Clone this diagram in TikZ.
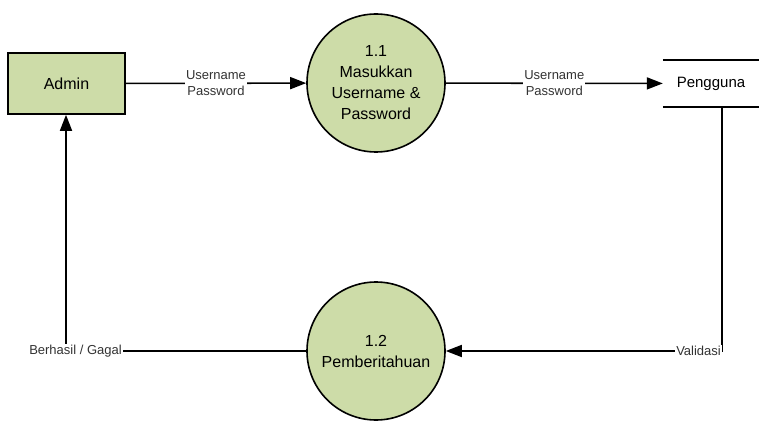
\documentclass[tikz,border=0pt]{standalone}
\usepackage{fontspec}
\setmainfont{Liberation Sans}
\usetikzlibrary{arrows.meta}
\definecolor{procgreen}{RGB}{205,220,168}
\begin{document}
\begin{tikzpicture}[x=1pt,y=-1pt,
  flow/.style={line width=1.6pt,-{Triangle[length=16pt,width=12pt]}},
  plain/.style={line width=1.6pt},
  entity/.style={draw=black,line width=1.6pt,fill=procgreen,minimum width=117pt,minimum height=61pt,inner sep=0pt,font=\fontsize{16}{19}\selectfont},
  proc/.style={circle,draw=black,line width=1.6pt,fill=procgreen,minimum size=138pt,inner sep=0pt,align=center,font=\fontsize{16}{21}\selectfont},
  store/.style={minimum width=96pt,minimum height=47pt,inner sep=0pt,font=\fontsize{15}{18}\selectfont},
  lbl/.style={fill=white,inner sep=1pt,align=center,text=black!80,font=\fontsize{13}{16}\selectfont}
]
\useasboundingbox (0,0) rectangle (759,422);
\node[entity] (admin) at (66.5,83.5) {Admin};
\node[proc] (p11) at (376,83) {1.1\\Masukkan\\Username \&\\Password};
\node[proc] (p12) at (376,351) {1.2\\Pemberitahuan};
\node[store] (peng) at (711,83.5) {Pengguna};
\draw[plain] (peng.north west) -- (peng.north east);
\draw[plain] (peng.south west) -- (peng.south east);
\coordinate (v1) at (722,351);
\coordinate (v2) at (66,351);
\draw[flow] (admin) -- node[lbl] {Username\\Password} (p11);
\draw[flow] (p11) -- node[lbl] {Username\\Password} (peng);
\draw[flow] (peng.south -| v1) -- (v1) -- (p12);
\draw[flow] (p12) -- (v2) -- (admin.south -| v2);
\node[lbl,anchor=east] (lv) at (v1) {Validasi};
\node[lbl] (lb) at (75.5,351) {Berhasil / Gagal};
\end{tikzpicture}
\end{document}
